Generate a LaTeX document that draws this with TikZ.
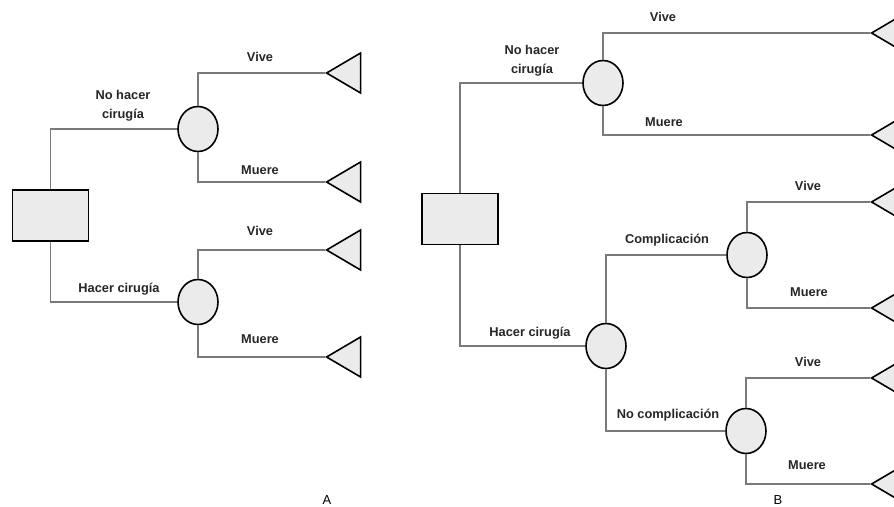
\documentclass[tikz,border=0pt]{standalone}
\usepackage{fontspec}
\setmainfont{Liberation Sans}
\usepackage{tikz}
\usetikzlibrary{shapes.geometric}

\definecolor{rellenogris}{HTML}{EBEBEB}
\definecolor{lineagris}{HTML}{7A7A7A}

\tikzset{
  rama/.style     = {draw=lineagris, line width=1.6pt},
  decision/.style = {draw, line width=1.6pt, fill=rellenogris, minimum width=76pt, minimum height=51pt},
  azar/.style     = {draw, ellipse, line width=1.6pt, fill=rellenogris, minimum width=40pt, minimum height=45pt},
  hoja/.style     = {draw, line width=1.6pt, fill=rellenogris, isosceles triangle, isosceles triangle apex angle=61,
                     isosceles triangle stretches, shape border rotate=180, minimum width=40pt, minimum height=34pt,
                     inner sep=0pt, anchor=apex},
  etiq/.style     = {font=\bfseries\fontsize{12.8}{19}\selectfont, text=black!85, align=center, inner sep=0pt},
  panel/.style    = {font=\fontsize{13}{15}\selectfont, anchor=base, inner sep=0pt}
}

\begin{document}
\begin{tikzpicture}[x=1pt, y=-1pt]
  \useasboundingbox (0,0) rectangle (894,506);
  \clip (0,0) rectangle (894,506);

  % A
  \node [decision] (dA) at (50.5,215.5) {};
  \node [azar] (aA1) at (198,129) {};
  \node [azar] (aA2) at (198,302) {};
  \node [hoja] (hA1) at (325,73)  {};
  \node [hoja] (hA2) at (325,182) {};
  \node [hoja] (hA3) at (325,250) {};
  \node [hoja] (hA4) at (325,357) {};

  \draw [rama] (dA.north) |- (aA1.west);
  \draw [rama] (dA.south) |- (aA2.west);
  \draw [rama] (aA1.north) |- (hA1.apex);
  \draw [rama] (aA1.south) |- (hA2.apex);
  \draw [rama] (aA2.north) |- (hA3.apex);
  \draw [rama] (aA2.south) |- (hA4.apex);

  \node [etiq] at (123,106) {No hacer\\cirugía};
  \node [etiq] at (119,289) {Hacer cirugía};
  \node [etiq] at (260,57)  {Vive};
  \node [etiq] at (260,170) {Muere};
  \node [etiq] at (260,231) {Vive};
  \node [etiq] at (260,339) {Muere};
  \node [panel] (pA) at (327,504.5) {A};

  % B
  \node [decision] (dB) at (460,219) {};
  \node [azar] (aB1) at (603,83)  {};
  \node [azar] (aB2) at (606,346) {};
  \node [azar] (aB3) at (747,255) {};
  \node [azar] (aB4) at (746,431) {};
  \node [hoja] (hB1) at (870,33)  {};
  \node [hoja] (hB2) at (870,135) {};
  \node [hoja] (hB3) at (870,202) {};
  \node [hoja] (hB4) at (870,308) {};
  \node [hoja] (hB5) at (870,378) {};
  \node [hoja] (hB6) at (870,484) {};

  \draw [rama] (dB.north) |- (aB1.west);
  \draw [rama] (dB.south) |- (aB2.west);
  \draw [rama] (aB1.north) |- (hB1.apex);
  \draw [rama] (aB1.south) |- (hB2.apex);
  \draw [rama] (aB2.north) |- (aB3.west);
  \draw [rama] (aB2.south) |- (aB4.west);
  \draw [rama] (aB3.north) |- (hB3.apex);
  \draw [rama] (aB3.south) |- (hB4.apex);
  \draw [rama] (aB4.north) |- (hB5.apex);
  \draw [rama] (aB4.south) |- (hB6.apex);

  \node [etiq] at (532,61)  {No hacer\\cirugía};
  \node [etiq] at (530,333) {Hacer cirugía};
  \node [etiq] at (667,240) {Complicación};
  \node [etiq] at (668,415) {No complicación};
  \node [etiq] at (663,17)  {Vive};
  \node [etiq] at (664,122) {Muere};
  \node [etiq] at (808,186) {Vive};
  \node [etiq] at (809,292) {Muere};
  \node [etiq] at (808,362) {Vive};
  \node [etiq] at (807,465) {Muere};
  \node [panel] (pB) at (778,504.5) {B};
\end{tikzpicture}
\end{document}
